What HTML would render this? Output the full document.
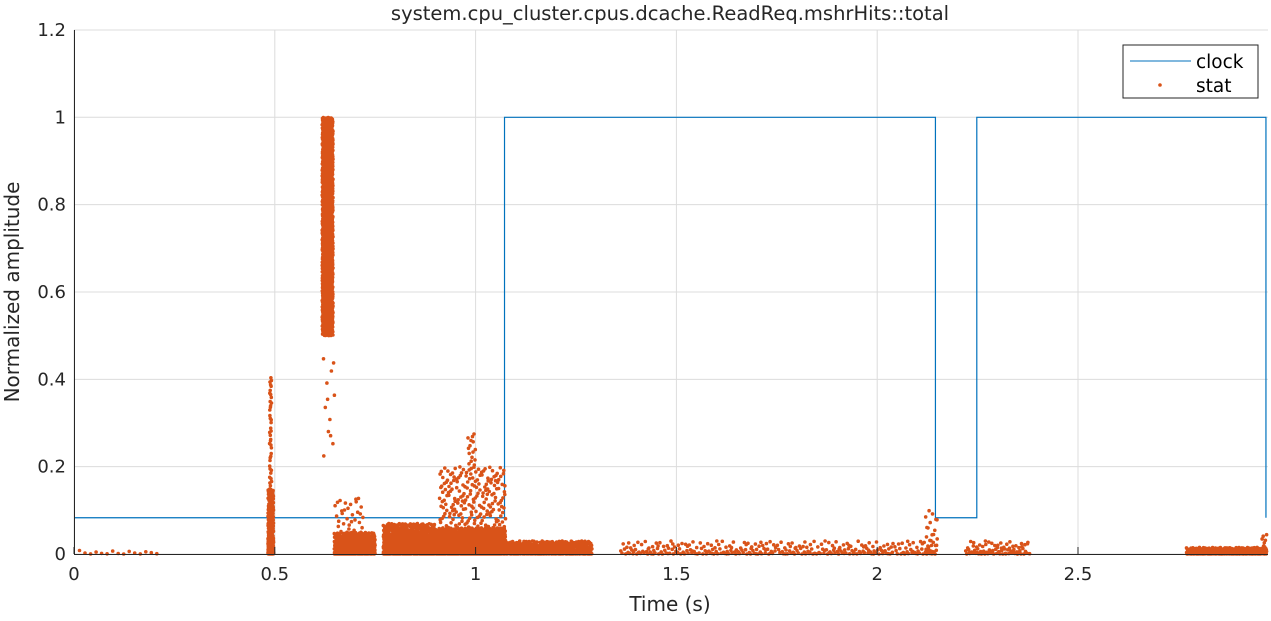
<!DOCTYPE html>
<html><head><meta charset="utf-8"><style>
body{margin:0;background:#fff;width:1271px;height:617px;overflow:hidden;font-family:"DejaVu Sans","Liberation Sans",sans-serif}
</style></head><body>
<svg id="chart" width="1271" height="617" xmlns="http://www.w3.org/2000/svg">
<g id="grid"></g>
<g id="clock"></g>
<g id="stat"></g>
<g id="axes"></g>
<text x="670" y="20" text-anchor="middle" font-size="19.5" fill="#262626">system.cpu_cluster.cpus.dcache.ReadReq.mshrHits::total</text>
<text x="670" y="611" text-anchor="middle" font-size="20" fill="#262626">Time (s)</text>
<text transform="translate(19,292) rotate(-90)" text-anchor="middle" font-size="20" fill="#262626">Normalized amplitude</text>
<g>
<rect x="1123" y="45" width="135" height="53" fill="#fff" stroke="#262626" stroke-width="1"/>
<line x1="1130" y1="61" x2="1191" y2="61" stroke="#0072bd" stroke-width="1"/>
<text x="1196" y="68" font-size="18.5" fill="#000">clock</text>
<circle cx="1160" cy="85" r="1.8" fill="#d95319"/>
<text x="1196" y="92" font-size="18.5" fill="#000">stat</text>
</g>
</svg>
<script>
const xTicks=[0,0.5,1,1.5,2,2.5];
const xTickLabels=["0","0.5","1","1.5","2","2.5"];
const yTicks=[0,0.2,0.4,0.6,0.8,1,1.2];
const yTickLabels=["0","0.2","0.4","0.6","0.8","1","1.2"];
const clockT=[0,1.072,1.072,2.145,2.145,2.248,2.248,2.968,2.968];
const clockV=[0.083,0.083,1,1,0.083,0.083,1,1,0.083];
// stat clusters: start time, end time, min value, max value, point count
const clusterT0=[0,0.483,0.487,0.618,0.62,0.648,0.65,0.77,0.9,0.91,0.98,1.075,1.36,2.12,2.22,2.77,2.955];
const clusterT1=[0.22,0.497,0.492,0.645,0.65,0.75,0.72,0.9,1.075,1.075,1.0,1.29,2.14,2.15,2.38,2.97,2.97];
const clusterV0=[0,0,0.15,0.5,0.2,0,0.05,0,0,0.06,0.2,0,0,0,0,0,0];
const clusterV1=[0.01,0.15,0.41,1.0,0.45,0.05,0.13,0.07,0.06,0.2,0.28,0.03,0.03,0.1,0.03,0.015,0.05];
const clusterN=[15,300,40,1500,12,500,30,800,1200,200,15,500,300,30,80,400,15];

const X0=74,XS=401.6,Y0=554,YS=436.7;
const xs=t=>X0+t*XS, ys=v=>Y0-v*YS;
const NS="http://www.w3.org/2000/svg";
function mk(tag,attrs,parent){const e=document.createElementNS(NS,tag);for(const k in attrs)e.setAttribute(k,attrs[k]);parent.appendChild(e);return e;}
function rad(i,b){let f=1,r=0;while(i>0){f/=b;r+=f*(i%b);i=Math.floor(i/b);}return r;}
const grid=document.getElementById('grid'),axes=document.getElementById('axes');
xTicks.forEach((t,i)=>{
 const g=mk('line',{x1:xs(t),x2:xs(t),y1:30,y2:554,stroke:'#dcdcdc','stroke-width':1},grid);
 
 
 const tk=mk('line',{x1:xs(t),x2:xs(t),y1:554,y2:547,stroke:'#262626'},axes);
 
 
 const l=mk('text',{x:xs(t),y:580,'text-anchor':'middle','font-size':18,fill:'#262626'},axes);l.textContent=xTickLabels[i];
 
 
});
yTicks.forEach((v,i)=>{
 const g=mk('line',{x1:74,x2:1268,y1:ys(v),y2:ys(v),stroke:'#dcdcdc','stroke-width':1},grid);
 
 
 const l=mk('text',{x:66,y:ys(v)+6,'text-anchor':'end','font-size':18,fill:'#262626'},axes);l.textContent=yTickLabels[i];
 
 
});
const xa=mk('line',{x1:74,x2:1268,y1:554.5,y2:554.5,stroke:'#262626'},axes);


const ya=mk('line',{x1:74.5,x2:74.5,y1:30,y2:554,stroke:'#262626'},axes);


const cl=mk('polyline',{points:clockT.map((t,i)=>xs(t)+','+ys(clockV[i])).join(' '),fill:'none',stroke:'#0072bd','stroke-width':1.2},document.getElementById('clock'));


const st=document.getElementById('stat');
let d='';
clusterT0.forEach((t0,c)=>{
 const n=clusterN[c];
 for(let k=1;k<=n;k++){
  const u=rad(k+c*17,2), w=rad(k+c*17,3);
  const t=t0+u*(clusterT1[c]-t0);
  const v=clusterV0[c]===0? (w*w)*clusterV1[c] : clusterV0[c]+w*(clusterV1[c]-clusterV0[c]);
  const x=xs(t),y=ys(v);
  d+=`M${(x-1.8).toFixed(1)},${y.toFixed(1)}a1.8,1.8 0 1,0 3.6,0a1.8,1.8 0 1,0 -3.6,0`;
 }
});
const p=mk('path',{d:d,fill:'#d95319'},st);


</script>
</body></html>
